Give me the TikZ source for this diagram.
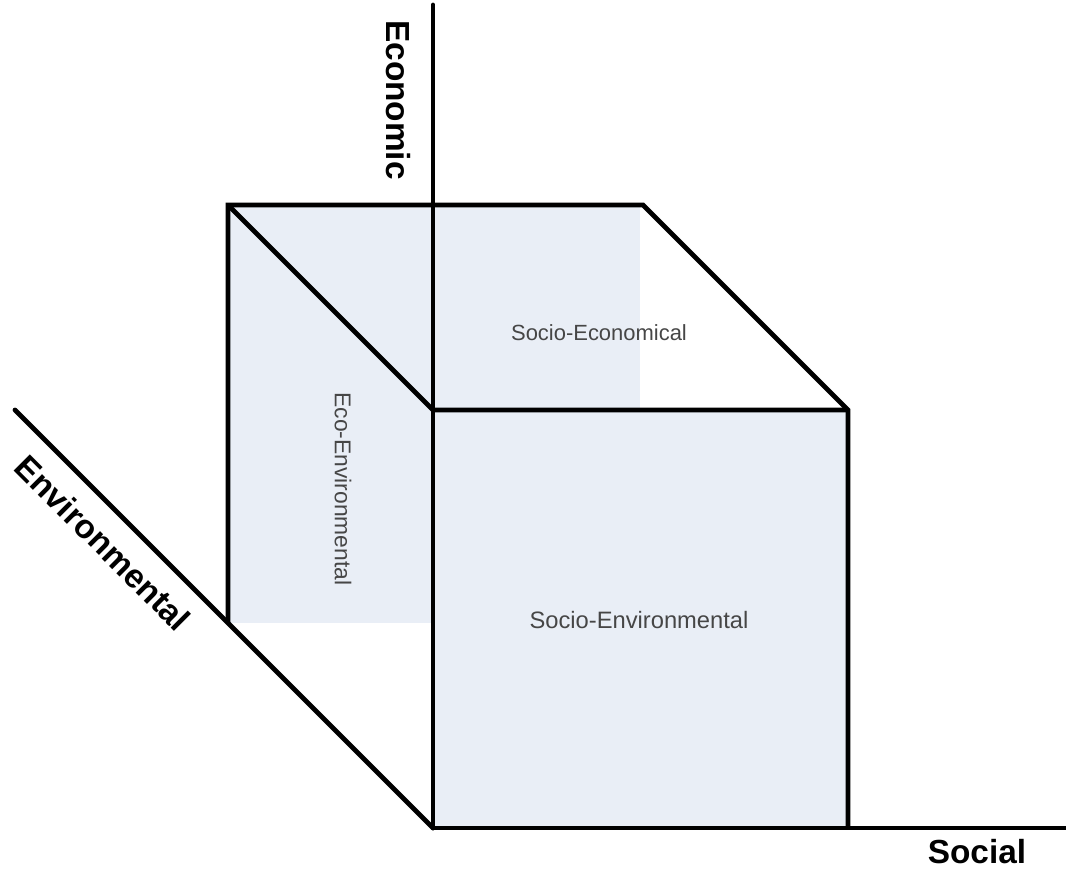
\documentclass[tikz,border=0pt]{standalone}
\usepackage{fontspec}
\setmainfont{Liberation Sans}
\usepackage{xcolor}
\definecolor{faceblue}{RGB}{233,238,246}
\definecolor{labelgray}{RGB}{70,70,70}
\usetikzlibrary{positioning,calc}

\begin{document}
\begin{tikzpicture}[line width=2.7pt,
  axis/.style={draw,line cap=round},
  edge/.style={draw},
  face/.style={fill=faceblue,draw=none},
  axlabel/.style={font=\fontsize{19}{22}\selectfont\bfseries,inner sep=0pt},
  facelabel/.style={font=\fontsize{12.5}{14}\selectfont,text=labelgray,inner sep=0pt}]
\useasboundingbox (0,0) rectangle (21.32,17.38);
% corners
\coordinate (o) at (8.66,0.82);
\coordinate (soc) at (21.32,0.82);
\coordinate (eco) at (8.66,17.28);
\coordinate (env) at (0.30,9.18);
\coordinate (ftl) at (8.66,9.18);
\coordinate (ftr) at (16.96,9.18);
\coordinate (fbr) at (16.96,0.82);
\coordinate (btl) at (4.56,13.28);
\coordinate (btr) at (12.86,13.28);
\coordinate (bbl) at (4.56,4.92);
% shaded faces
\fill[face] (bbl) rectangle (12.80,13.28);
\fill[face] (o) rectangle (ftr);
% axes
\draw[axis] (o) -- (soc);
\draw[axis] (o) -- (eco);
\draw[axis] (o) -- (env);
% cube edges
\draw[edge] (bbl) -- (btl) -- (btr) -- (ftr) -- (fbr);
\draw[edge] (btl) -- (ftl) -- (ftr);
% labels
\node[axlabel,rotate=-90] (economic) at (7.96,15.38) {Economic};
\node[axlabel] (social) at (19.54,0.34) {Social};
\node[axlabel,rotate=-45] (environmental) at (2.06,6.52) {Environmental};
\node[facelabel] (socioeco) at (11.98,10.72) {Socio-Economical};
\node[facelabel,rotate=-90,font=\fontsize{13}{15}\selectfont] (ecoenv) at (6.86,7.60) {Eco-Environmental};
\node[facelabel,font=\fontsize{13.5}{15}\selectfont] (socioenv) at (12.78,4.98) {Socio-Environmental};
\end{tikzpicture}
\end{document}
